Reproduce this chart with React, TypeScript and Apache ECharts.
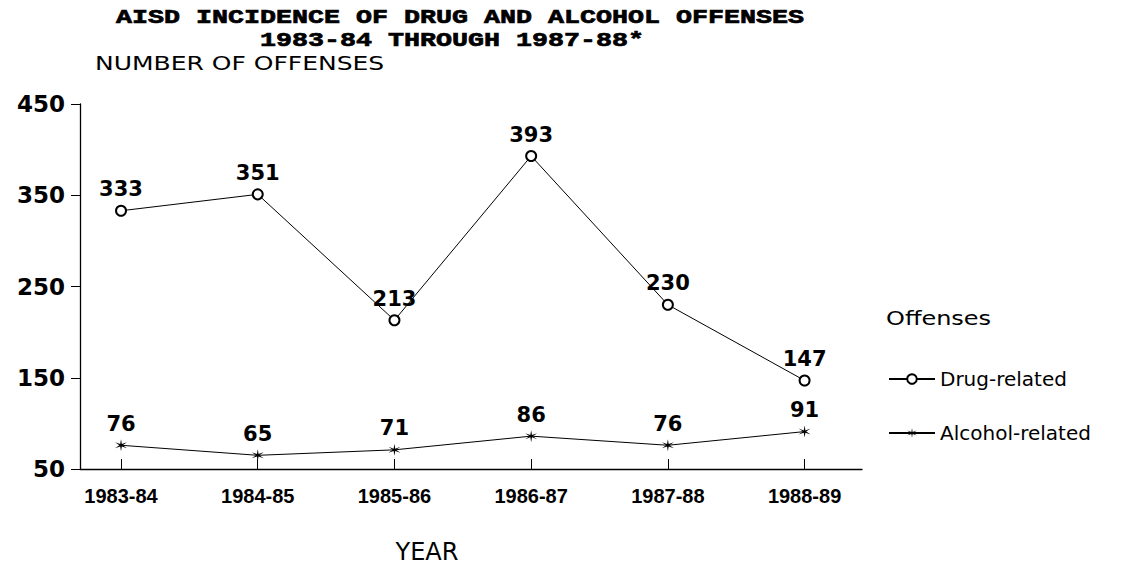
import React, { useEffect, useRef } from "react";
import * as echarts from "echarts";

const years = ["1983-84", "1984-85", "1985-86", "1986-87", "1987-88", "1988-89"];
const drugRelated = [333, 351, 213, 393, 230, 147];
const alcoholRelated = [76, 65, 71, 86, 76, 91];
const yTicks = [50, 150, 250, 350, 450];
const xTicks = [0, 1, 2, 3, 4, 5];

const titleLine1 = "AISD INCIDENCE OF DRUG AND ALCOHOL OFFENSES";
const titleLine2 = "1983-84 THROUGH 1987-88* ";

const STAR =
  "path://M10,0 L11.2,8 L18.7,5 L12.4,10 L18.7,15 L11.2,12 L10,20 L8.8,12 L1.3,15 L7.6,10 L1.3,5 L8.8,8 Z";

export default function App() {
  const ref = useRef<HTMLDivElement>(null);

  useEffect(() => {
    if (!ref.current) return;
    const chart = echarts.init(ref.current, null, { renderer: "svg" });
    const sans = "DejaVu Sans";
    const labelStyle = {
      show: true,
      position: "top" as const,
      distance: 5,
      fontFamily: sans,
      fontWeight: "bold" as const,
      fontSize: 21,
      color: "#000",
    };
    chart.setOption({
      animation: false,
      backgroundColor: "#fff",
      grid: { left: 80, right: 280, top: 104, bottom: 99, containLabel: false },
      graphic: [
        {
          type: "text",
          x: 460,
          y: 28.5,
          scaleX: 1.27,
          style: {
            text: titleLine1 + "\n" + titleLine2,
            fontFamily: "Liberation Mono",
            fontWeight: "bold",
            fontSize: 21,
            lineHeight: 23,
            fill: "#000",
            stroke: "#000",
            lineWidth: 0.7,
            align: "center",
            verticalAlign: "middle",
          },
        },
        {
          type: "text",
          x: 95,
          y: 63,
          scaleX: 1.25,
          style: {
            text: "NUMBER OF OFFENSES",
            fontFamily: sans,
            fontSize: 20,
            fill: "#000",
            verticalAlign: "middle",
          },
        },
        {
          type: "text",
          x: 427,
          y: 552,
          style: {
            text: "YEAR",
            fontFamily: sans,
            fontSize: 24,
            fill: "#000",
            align: "center",
            verticalAlign: "middle",
          },
        },
        {
          type: "text",
          x: 886,
          y: 318,
          scaleX: 1.2,
          style: {
            text: "Offenses",
            fontFamily: sans,
            fontSize: 20,
            fill: "#000",
            verticalAlign: "middle",
          },
        },
      ],
      legend: {
        orient: "vertical",
        left: 883,
        top: 364,
        itemGap: 34,
        itemWidth: 46,
        itemHeight: 12,
        textStyle: { fontFamily: sans, fontSize: 20, color: "#000" },
        data: ["Drug-related", "Alcohol-related"],
      },
      xAxis: {
        type: "value",
        min: -0.3,
        max: 5.42,
        axisLine: { show: true, onZero: false, lineStyle: { color: "#000", width: 1.3 } },
        axisTick: {
          show: true,
          inside: true,
          length: 10,
          customValues: xTicks,
          lineStyle: { color: "#000" },
        },
        axisLabel: {
          customValues: xTicks,
          formatter: (v: number) => years[Math.round(v)] ?? "",
          margin: 17,
          fontFamily: "Liberation Sans",
          fontWeight: "bold",
          fontSize: 20,
          color: "#000",
        },
        splitLine: { show: false },
      },
      yAxis: {
        type: "value",
        min: 50,
        max: 450,
        axisLine: { show: true, onZero: false, lineStyle: { color: "#000", width: 1.3 } },
        axisTick: { show: true, length: 9, customValues: yTicks, lineStyle: { color: "#000" } },
        axisLabel: {
          customValues: yTicks,
          margin: 15,
          fontFamily: sans,
          fontWeight: "bold",
          fontSize: 23,
          color: "#000",
        },
        splitLine: { show: false },
      },
      series: [
        {
          name: "Drug-related",
          type: "line",
          data: drugRelated.map((v, i) => [i, v]),
          symbol: "emptyCircle",
          symbolSize: 10,
          lineStyle: { color: "#000", width: 1 },
          itemStyle: { color: "#000", borderColor: "#000", borderWidth: 1 },
          label: labelStyle,
        },
        {
          name: "Alcohol-related",
          type: "line",
          data: alcoholRelated.map((v, i) => [i, v]),
          symbol: STAR,
          symbolSize: 12,
          lineStyle: { color: "#000", width: 1 },
          itemStyle: { color: "#000" },
          label: labelStyle,
        },
      ],
    });
    return () => chart.dispose();
  }, []);

  return (
    <div
      ref={ref}
      style={{ position: "fixed", left: 0, top: 0, width: 1142, height: 568, background: "#fff" }}
    />
  );
}
